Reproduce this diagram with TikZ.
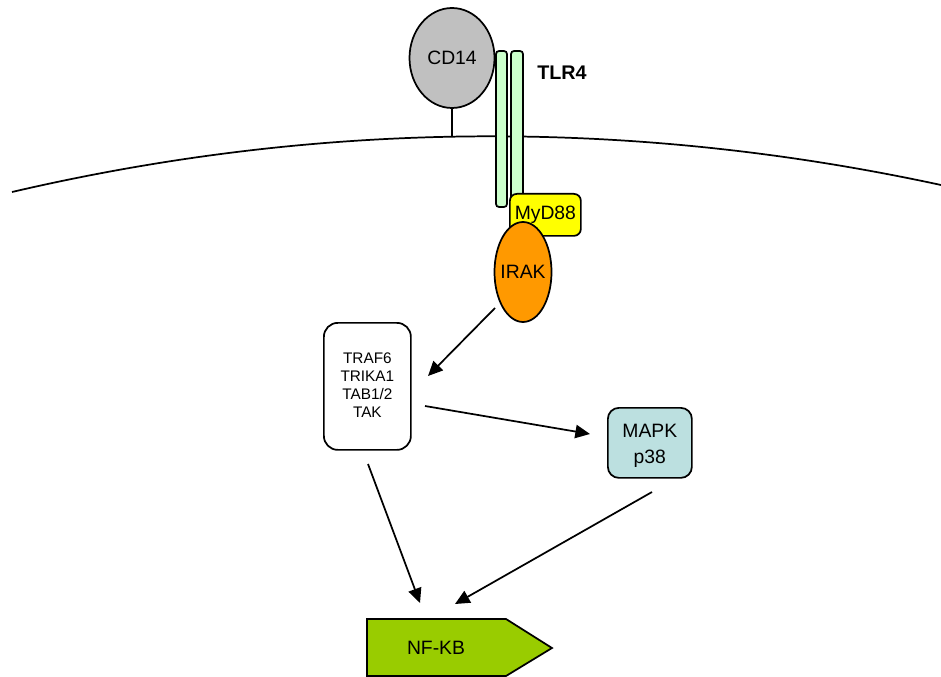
\documentclass[tikz,border=0pt]{standalone}
\usepackage{fontspec}
\setmainfont{Liberation Sans}
\usetikzlibrary{arrows.meta,shapes.geometric}
\newdimen\pxu \pxu=0.75pt
\definecolor{cdgray}{HTML}{C0C0C0}
\definecolor{tlrgreen}{HTML}{CCFFCC}
\definecolor{mydyellow}{HTML}{FFFF00}
\definecolor{irakorange}{HTML}{FF9900}
\definecolor{mapkblue}{HTML}{BCE0E0}
\definecolor{nfgreen}{HTML}{99CC00}
\tikzset{
  outl/.style={draw=black, line width=1.3pt},
  lbl/.style={font=\fontsize{14.5}{16}\selectfont, inner sep=0pt},
  arr/.style={line width=1.3pt, -{Triangle[length=11pt,width=10pt]}},
}
\begin{document}
\begin{tikzpicture}[x=0.75pt,y=-0.75pt]
\useasboundingbox (0,0) rectangle (941,677);
% membrane
\draw[line width=1.3pt] (12,192) .. controls (321,120) and (631,118) .. (941,185);
% CD14 stem
\coordinate (stemb) at (452,137);
\node[ellipse, outl, fill=cdgray, minimum width=85\pxu, minimum height=100\pxu, inner sep=0pt] (cd14) at (452,58) {};
\node[lbl] at (cd14.center) {CD14};
\draw[line width=1.3pt] (cd14.south) -- (stemb);
% TLR4
\draw[outl, fill=tlrgreen, rounded corners=3\pxu] (496,51) rectangle (507,207);
\draw[outl, fill=tlrgreen, rounded corners=3\pxu] (511,51) rectangle (523,200);
\node[lbl, font=\bfseries\fontsize{14.8}{16}\selectfont, anchor=west] (tlr4) at (537,73) {TLR4};
% MyD88
\node[outl, fill=mydyellow, rounded corners=7\pxu, minimum width=71\pxu, minimum height=42\pxu, inner sep=0pt, anchor=north west] (myd) at (509,193) {};
\node[lbl] at (myd.center) {MyD88};
% IRAK
\node[ellipse, outl, fill=irakorange, minimum width=57\pxu, minimum height=100\pxu, inner sep=0pt] (irak) at (523,272) {};
\node[lbl] at (irak.center) {IRAK};
% TRAF box
\node[outl, fill=white, rounded corners=14\pxu, minimum width=87\pxu, minimum height=127\pxu, inner sep=0pt, anchor=north west] (traf) at (323,322) {};
\node[align=center, font=\fontsize{11.5}{13.4}\selectfont, inner sep=0pt] at ([yshift=1]traf.center) {TRAF6\\TRIKA1\\TAB1/2\\TAK};
% MAPK box
\node[outl, fill=mapkblue, rounded corners=11\pxu, minimum width=84\pxu, minimum height=70\pxu, inner sep=0pt, anchor=north west] (mapk) at (607,407) {};
\node[align=center, font=\fontsize{14.5}{19.5}\selectfont, inner sep=0pt] at ([yshift=-2]mapk.center) {MAPK\\p38};
% NF-KB
\draw[outl, fill=nfgreen] (367,619) -- (506,619) -- (552,648) -- (506,676) -- (367,676) -- cycle;
\coordinate (nfc) at (436,648);
\node[lbl] (nfkb) at (nfc) {NF-KB};
% arrows
\coordinate (a1s) at (495,308); \coordinate (a1e) at (428,376);
\coordinate (a2s) at (425,406); \coordinate (a2e) at (590,434);
\coordinate (a3s) at (368,464); \coordinate (a3e) at (420,603);
\coordinate (a4s) at (652,492); \coordinate (a4e) at (455,604);
\draw[arr] (a1s) -- (a1e);
\draw[arr] (a2s) -- (a2e);
\draw[arr] (a3s) -- (a3e);
\draw[arr] (a4s) -- (a4e);
\end{tikzpicture}
\end{document}
